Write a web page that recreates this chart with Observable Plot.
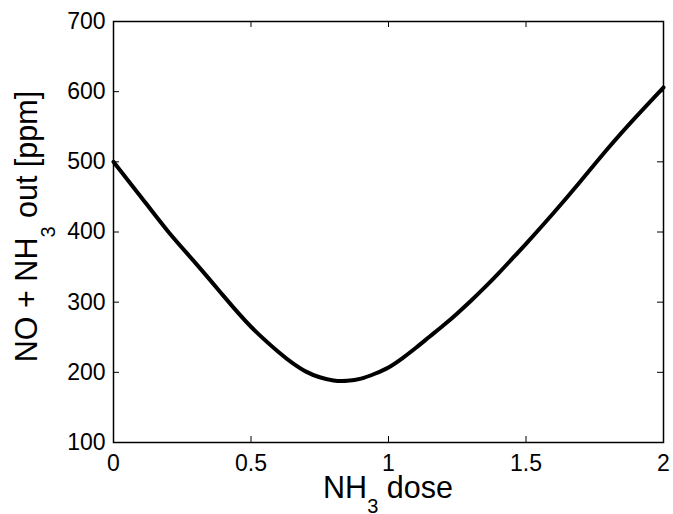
<!DOCTYPE html>
<html>
<head>
<meta charset="utf-8">
<script src="https://cdn.jsdelivr.net/npm/d3@7"></script>
<script src="https://cdn.jsdelivr.net/npm/@observablehq/plot@0.6"></script>
<style>
  html, body { margin: 0; padding: 0; background: #fff; }
  #chart { width: 673px; height: 514px; }
</style>
</head>
<body>
<div id="chart"></div>
<script>
// NH3 dose (x) and NO + NH3 out [ppm] (y)
const dose = [0, 0.1, 0.2, 0.3, 0.4, 0.5, 0.6, 0.65, 0.7, 0.75, 0.8, 0.85, 0.9, 0.95, 1.0, 1.05, 1.1, 1.15, 1.2, 1.25, 1.3, 1.35, 1.4, 1.45, 1.5, 1.6, 1.7, 1.8, 1.9, 2.0];
const noOut = [500, 450, 400, 355, 309, 265, 229, 213.5, 201, 193, 188.5, 188, 191, 198, 207, 220, 235, 251, 267, 284, 302, 321, 341, 362, 383, 427, 473, 520, 564, 606];
const xTicks = [0, 0.5, 1, 1.5, 2];
const yTicks = [100, 200, 300, 400, 500, 600, 700];
const xDomain = [0, 2];
const yDomain = [100, 700];

const data = dose.map((d, i) => ({x: d, y: noOut[i]}));

const W = 673, H = 514;
const mL = 113, mR = 10, mT = 21, mB = 72;
const plotW = W - mL - mR, plotH = H - mT - mB;
const TICK = 6;
const FONT = "'Liberation Sans', Arial, Helvetica, sans-serif";

const chart = Plot.plot({
  width: W,
  height: H,
  marginLeft: mL,
  marginRight: mR,
  marginTop: mT,
  marginBottom: mB,
  style: {fontFamily: FONT, fontSize: "23px", color: "#000", background: "#fff"},
  x: {domain: xDomain, ticks: xTicks},
  y: {domain: yDomain, ticks: yTicks},
  marks: [
    Plot.line(data, {x: "x", y: "y", stroke: "#000", strokeWidth: 4, curve: "natural"}),
    // inward ticks on all four sides
    Plot.tickX(xTicks, {x: d => d, insetTop: plotH - TICK, stroke: "#000", strokeWidth: 1}),
    Plot.tickX(xTicks, {x: d => d, insetBottom: plotH - TICK, stroke: "#000", strokeWidth: 1}),
    Plot.tickY(yTicks, {y: d => d, insetRight: plotW - TICK, stroke: "#000", strokeWidth: 1}),
    Plot.tickY(yTicks, {y: d => d, insetLeft: plotW - TICK, stroke: "#000", strokeWidth: 1}),
    Plot.frame({stroke: "#000", strokeWidth: 1.5}),
    Plot.axisX(xTicks, {tickSize: 0, tickPadding: 12, label: null, tickFormat: d => String(d), fontSize: 23}),
    Plot.axisY(yTicks, {tickSize: 0, tickPadding: 8, label: null, tickFormat: d => String(d), fontSize: 23})
  ]
});

document.getElementById("chart").appendChild(chart);

// axis titles with subscripts
const svg = d3.select(chart);
const cx = (mL + (W - mR)) / 2;
const cy = (mT + (H - mB)) / 2;

const xl = svg.append("text")
  .attr("x", cx)
  .attr("y", 498)
  .attr("text-anchor", "middle")
  .attr("fill", "#000")
  .style("font-family", FONT)
  .style("font-size", "30.5px")
  .style("white-space", "pre");
xl.append("tspan").text("NH");
xl.append("tspan").attr("dy", 15).style("font-size", "20px").text("3");
xl.append("tspan").attr("dy", -15).text(" dose");

const yl = svg.append("text")
  .attr("transform", `translate(37,${cy - 5}) rotate(-90)`)
  .attr("text-anchor", "middle")
  .attr("fill", "#000")
  .style("font-family", FONT)
  .style("font-size", "30.5px")
  .style("white-space", "pre");
yl.append("tspan").text("NO + NH");
yl.append("tspan").attr("dy", 18).style("font-size", "20px").text("3");
yl.append("tspan").attr("dy", -18).text(" out [ppm]");
</script>
</body>
</html>
